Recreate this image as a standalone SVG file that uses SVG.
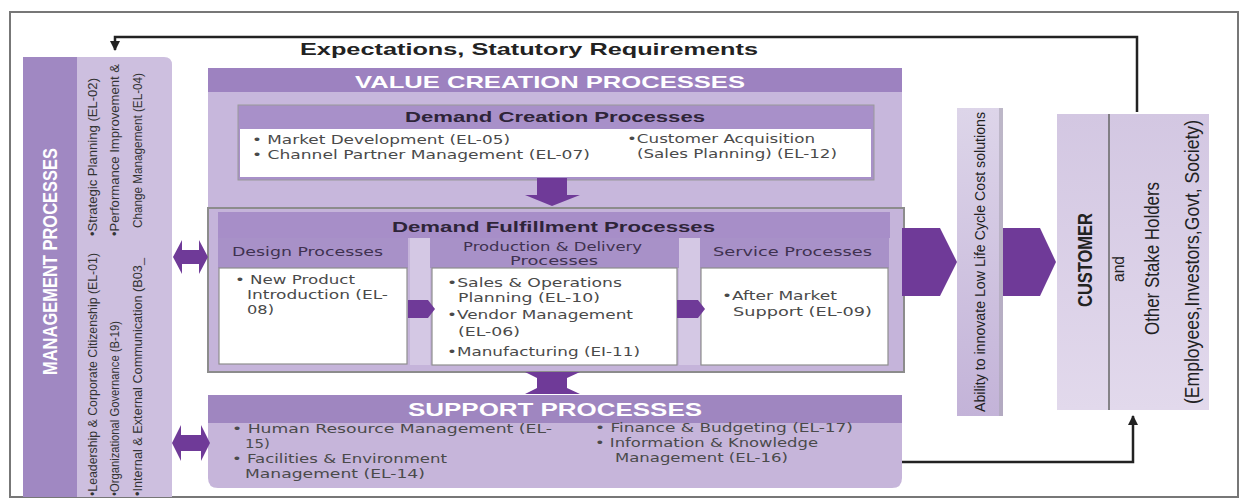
<svg xmlns="http://www.w3.org/2000/svg" width="1241" height="502" viewBox="0 0 1241 502">
<style>
  .t{font-family:"Liberation Sans",Arial,sans-serif;}
  .body{font-family:"DejaVu Sans","Liberation Sans",sans-serif;font-size:12.5px;fill:#4a4a4a;}
  .hw{font-family:"Liberation Sans",Arial,sans-serif;font-weight:bold;fill:#ffffff;}
  .hd{font-family:"Liberation Sans",Arial,sans-serif;font-weight:bold;fill:#2e2438;font-size:15px;}
  .sub{font-family:"DejaVu Sans","Liberation Sans",sans-serif;font-size:12.5px;fill:#3f3150;}
  .vt{font-family:"Liberation Sans Narrow","Liberation Sans",Arial,sans-serif;font-size:13.5px;fill:#333;}
  .vb{font-family:"Liberation Sans Narrow","Liberation Sans",Arial,sans-serif;fill:#222;}
  .arr{fill:#6f3a98;}
  .white{fill:#ffffff;stroke:#8e8e8e;stroke-width:1.2;}
  .line{fill:none;stroke:#222;stroke-width:2.5;}
</style>
<defs>
  <marker id="ah" viewBox="0 0 10 10" refX="9" refY="5" markerWidth="4" markerHeight="4" orient="auto">
    <path d="M0,0 L10,5 L0,10 Z" fill="#222"/>
  </marker>
  <linearGradient id="gAb" x1="0" y1="0" x2="0" y2="1">
    <stop offset="0" stop-color="#ddd5e9"/>
    <stop offset="1" stop-color="#c3b3d8"/>
  </linearGradient>
  <linearGradient id="gCu" x1="0" y1="0" x2="0" y2="1">
    <stop offset="0" stop-color="#d3c7e2"/>
    <stop offset="1" stop-color="#e2d9ec"/>
  </linearGradient>
</defs>

<rect x="10" y="12" width="1228" height="485" fill="#ffffff" stroke="#777" stroke-width="2"/>

<text class="t" x="300" y="55" font-size="17" font-weight="bold" fill="#222" textLength="458" lengthAdjust="spacingAndGlyphs">Expectations, Statutory Requirements</text>

<g id="management">
  <path d="M23,57 H164 Q172,57 172,65 V497 H23 Z" fill="#cdbfdf"/>
  <rect x="23" y="57" width="54" height="440" fill="#a088c2"/>
  <text class="hw" font-size="20" transform="translate(57,375) rotate(-90)" textLength="227" lengthAdjust="spacingAndGlyphs">MANAGEMENT PROCESSES</text>
  <text class="vt" transform="translate(97,236) rotate(-90)" textLength="158" lengthAdjust="spacingAndGlyphs">•Strategic Planning (EL-02)</text>
  <text class="vt" transform="translate(119,236) rotate(-90)" textLength="172" lengthAdjust="spacingAndGlyphs">•Performance Improvement &amp;</text>
  <text class="vt" transform="translate(142,228) rotate(-90)" textLength="155" lengthAdjust="spacingAndGlyphs">Change Management (EL-04)</text>
  <text class="vt" transform="translate(97,496) rotate(-90)" textLength="243" lengthAdjust="spacingAndGlyphs">•Leadership &amp; Corporate Citizenship (EL-01)</text>
  <text class="vt" transform="translate(119,496) rotate(-90)" textLength="175" lengthAdjust="spacingAndGlyphs">•Organizational Governance (B-19)</text>
  <text class="vt" transform="translate(142,496) rotate(-90)" textLength="238" lengthAdjust="spacingAndGlyphs">•Internal &amp; External Communication (B03_</text>
</g>

<g id="value-creation">
  <rect x="208" y="68" width="694" height="142" fill="#c7b7dc"/>
  <rect x="208" y="68" width="694" height="24" fill="#9d82c0"/>
  <text class="hw" x="355" y="88" font-size="17" textLength="390" lengthAdjust="spacingAndGlyphs">VALUE CREATION PROCESSES</text>
</g>

<g id="demand-creation">
  <rect x="238" y="105" width="636" height="75" fill="#a890c9" stroke="#9a9a9a" stroke-width="1"/>
  <rect x="240" y="129" width="631" height="48" fill="#ffffff"/>
  <text class="hd" x="405" y="122" textLength="300" lengthAdjust="spacingAndGlyphs">Demand Creation Processes</text>
  <text class="body" x="252" y="144" textLength="258" lengthAdjust="spacingAndGlyphs">• Market Development (EL-05)</text>
  <text class="body" x="252" y="159" textLength="338" lengthAdjust="spacingAndGlyphs">• Channel Partner Management (EL-07)</text>
  <text class="body" x="627" y="143" textLength="188" lengthAdjust="spacingAndGlyphs">•Customer Acquisition</text>
  <text class="body" x="637" y="158" textLength="200" lengthAdjust="spacingAndGlyphs">(Sales Planning) (EL-12)</text>
</g>

<g id="demand-fulfillment">
  <rect x="208" y="208" width="696" height="164" fill="#c5b4da" stroke="#8c8c8c" stroke-width="2"/>
  <rect x="218" y="212" width="672" height="26" fill="#a78ec8"/>
  <text class="hd" x="392" y="232" textLength="323" lengthAdjust="spacingAndGlyphs">Demand Fulfillment Processes</text>
  <rect x="410" y="238" width="20" height="127" fill="#d4c8e4"/>
  <rect x="679" y="238" width="21" height="127" fill="#d4c8e4"/>
</g>

<g id="design">
  <rect x="218" y="238" width="190" height="30" fill="#a891c8"/>
  <rect class="white" x="219" y="268" width="188" height="96"/>
  <text class="sub" x="232" y="256" textLength="151" lengthAdjust="spacingAndGlyphs">Design Processes</text>
  <text class="body" x="235" y="284" textLength="120" lengthAdjust="spacingAndGlyphs">• New Product</text>
  <text class="body" x="247" y="299" textLength="141" lengthAdjust="spacingAndGlyphs">Introduction (EL-</text>
  <text class="body" x="247" y="314" textLength="27" lengthAdjust="spacingAndGlyphs">08)</text>
</g>

<g id="production">
  <rect x="430" y="238" width="249" height="30" fill="#a891c8"/>
  <rect class="white" x="432" y="268" width="245" height="97"/>
  <text class="sub" x="463" y="251" font-size="11.5" textLength="179" lengthAdjust="spacingAndGlyphs">Production &amp; Delivery</text>
  <text class="sub" x="510" y="264.5" font-size="11.5" textLength="88" lengthAdjust="spacingAndGlyphs">Processes</text>
  <text class="body" x="447" y="287" textLength="175" lengthAdjust="spacingAndGlyphs">•Sales &amp; Operations</text>
  <text class="body" x="458" y="302" textLength="142" lengthAdjust="spacingAndGlyphs">Planning (EL-10)</text>
  <text class="body" x="447" y="319" textLength="186" lengthAdjust="spacingAndGlyphs">•Vendor Management</text>
  <text class="body" x="458" y="336" textLength="62" lengthAdjust="spacingAndGlyphs">(EL-06)</text>
  <text class="body" x="447" y="356" textLength="193" lengthAdjust="spacingAndGlyphs">•Manufacturing (EI-11)</text>
</g>

<g id="service">
  <rect x="700" y="238" width="189" height="30" fill="#a891c8"/>
  <rect class="white" x="701" y="268" width="187" height="97"/>
  <text class="sub" x="713" y="256" textLength="159" lengthAdjust="spacingAndGlyphs">Service Processes</text>
  <text class="body" x="722" y="300" textLength="115" lengthAdjust="spacingAndGlyphs">•After Market</text>
  <text class="body" x="733" y="316" textLength="139" lengthAdjust="spacingAndGlyphs">Support (EL-09)</text>
</g>

<g id="support">
  <path d="M208,395 H902 V478 Q902,488 892,488 H218 Q208,488 208,478 Z" fill="#c6b5da"/>
  <rect x="208" y="395" width="694" height="28" fill="#9f86c0"/>
  <text class="hw" x="408" y="416" font-size="18" textLength="294" lengthAdjust="spacingAndGlyphs">SUPPORT PROCESSES</text>
  <text class="body" x="232" y="433" textLength="320" lengthAdjust="spacingAndGlyphs">• Human Resource  Management (EL-</text>
  <text class="body" x="245" y="448" textLength="25" lengthAdjust="spacingAndGlyphs">15)</text>
  <text class="body" x="232" y="463" textLength="215" lengthAdjust="spacingAndGlyphs">• Facilities &amp; Environment</text>
  <text class="body" x="245" y="478" textLength="180" lengthAdjust="spacingAndGlyphs">Management (EL-14)</text>
  <text class="body" x="595" y="432" textLength="258" lengthAdjust="spacingAndGlyphs">• Finance &amp; Budgeting (EL-17)</text>
  <text class="body" x="595" y="447" textLength="223" lengthAdjust="spacingAndGlyphs">• Information &amp; Knowledge</text>
  <text class="body" x="615" y="462" textLength="173" lengthAdjust="spacingAndGlyphs">Management (EL-16)</text>
</g>

<g id="ability">
  <rect x="957" y="108" width="46" height="308" fill="url(#gAb)"/>
  <rect x="999" y="108" width="4" height="308" fill="#a9a3b3" opacity="0.6"/>
  <text class="vb" font-size="14" transform="translate(985,412) rotate(-90)" textLength="300" lengthAdjust="spacingAndGlyphs">Ability to innovate Low Life Cycle Cost solutions</text>
</g>

<g id="customer">
  <rect x="1057" y="114" width="152" height="296" fill="url(#gCu)"/>
  <line x1="1109" y1="114" x2="1109" y2="410" stroke="#666" stroke-width="1.5"/>
  <text class="vb" font-size="20" font-weight="bold" transform="translate(1092,307) rotate(-90)" textLength="94" lengthAdjust="spacingAndGlyphs">CUSTOMER</text>
  <text class="vb" font-size="16" transform="translate(1124,282) rotate(-90)" textLength="26" lengthAdjust="spacingAndGlyphs">and</text>
  <text class="vb" font-size="20" transform="translate(1159,335) rotate(-90)" textLength="153" lengthAdjust="spacingAndGlyphs">Other Stake Holders</text>
  <text class="vb" font-size="20" transform="translate(1199,404) rotate(-90)" textLength="284" lengthAdjust="spacingAndGlyphs">(Employees,Investors,Govt, Society)</text>
</g>

<g id="connectors">
  <path class="line" d="M1137,112 V37 H115 V50" marker-end="url(#ah)"/>
  <path class="line" d="M902,462 H1133 V416" marker-end="url(#ah)"/>
  <polygon class="arr" points="537,178 567,178 567,195 580,195 552,206 525,195 537,195"/>
  <polygon class="arr" points="525,372 580,372 567,378 567,388 580,394 525,394 537,388 537,378"/>
  <polygon class="arr" points="408,300 428,300 435,309 428,318 408,318"/>
  <polygon class="arr" points="677,300 698,300 705,309 698,318 677,318"/>
  <polygon class="arr" points="173,257 182,240 182,250 199,250 199,240 208,257 199,274 199,264 182,264 182,274"/>
  <polygon class="arr" points="172,443 181,425 181,435 201,435 201,425 210,443 201,461 201,451 181,451 181,461"/>
  <polygon class="arr" points="902,228 940,228 957,262 940,296 902,296"/>
  <polygon class="arr" points="1003,228 1040,228 1056,262 1040,296 1003,296"/>
</g>
</svg>
